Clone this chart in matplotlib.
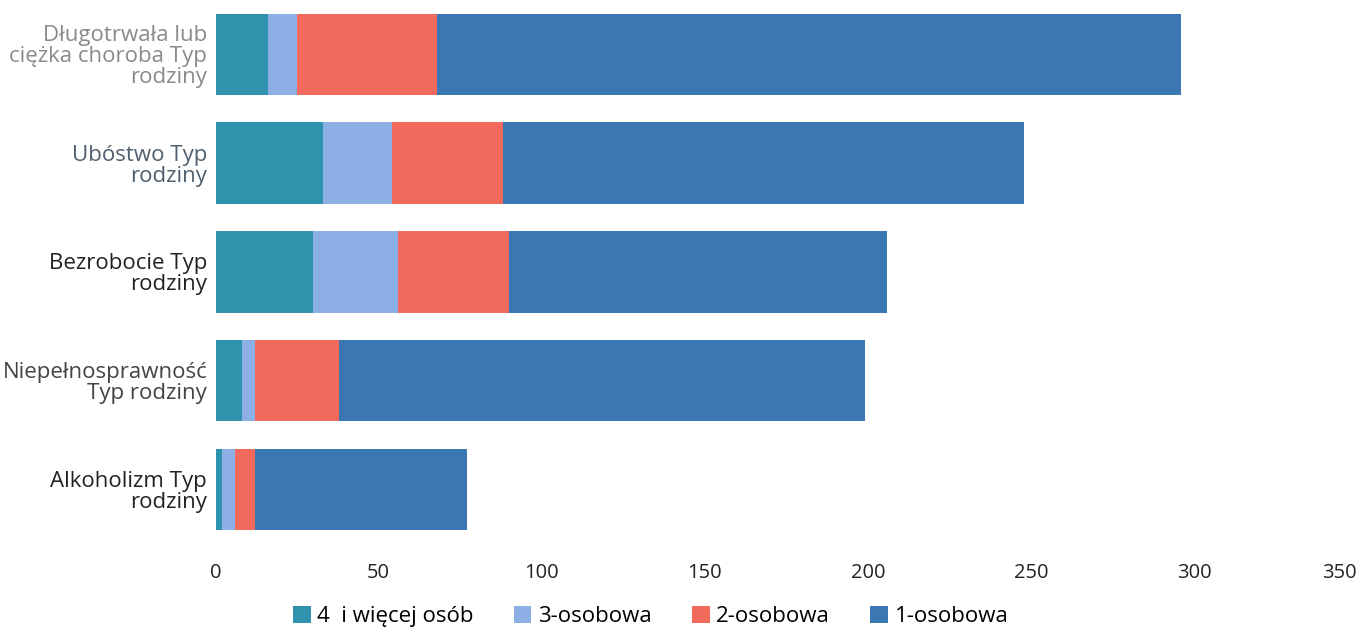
import matplotlib.pyplot as plt
import numpy as np

plt.rcParams['font.family'] = ['Open Sans', 'DejaVu Sans']

categories = ['Długotrwała lub\nciężka choroba Typ\nrodziny', 'Ubóstwo Typ\nrodziny',
              'Bezrobocie Typ\nrodziny', 'Niepełnosprawność\nTyp rodziny', 'Alkoholizm Typ\nrodziny']
series_names = ['4  i więcej osób', '3-osobowa', '2-osobowa', '1-osobowa']
four_plus = [16, 33, 30, 8, 2]
three = [9, 21, 26, 4, 4]
two = [43, 34, 34, 26, 6]
one = [228, 160, 116, 161, 65]
colors = ['#2f93ad', '#8cb0e6', '#f26a5c', '#3b77b3']
label_colors = ['#8a8a8a', '#4f5f6e', '#222222', '#444444', '#222222']

fig = plt.figure(figsize=(13.64, 6.3), dpi=100)
ax = fig.add_axes([0.158, 0.137, 0.837, 0.863])

y = np.arange(len(categories))
left = np.zeros(len(categories))
for name, vals, c in zip(series_names, [four_plus, three, two, one], colors):
    ax.barh(y, vals, left=left, height=0.75, color=c, label=name)
    left += np.array(vals)

ax.set_ylim(len(categories) - 0.5, -0.5)
ax.set_xlim(0, 350)
ax.set_xticks(range(0, 351, 50))
ax.set_yticks(y)
ax.set_yticklabels(categories, fontsize=16, linespacing=1.0)
for lbl, c in zip(ax.get_yticklabels(), label_colors):
    lbl.set_color(c)
ax.tick_params(axis='x', labelsize=14.5, colors='#222222', length=0, pad=14)
ax.tick_params(axis='y', length=0, pad=6)
ax.get_xticklabels()[-1].set_horizontalalignment('right')
for s in ax.spines.values():
    s.set_visible(False)

fig.legend(loc='center', bbox_to_anchor=(0.477, 0.022), ncol=4, frameon=False,
           fontsize=16, handlelength=0.8, handleheight=0.8, handletextpad=0.3,
           columnspacing=1.8)

plt.savefig('out.png', dpi=100)
